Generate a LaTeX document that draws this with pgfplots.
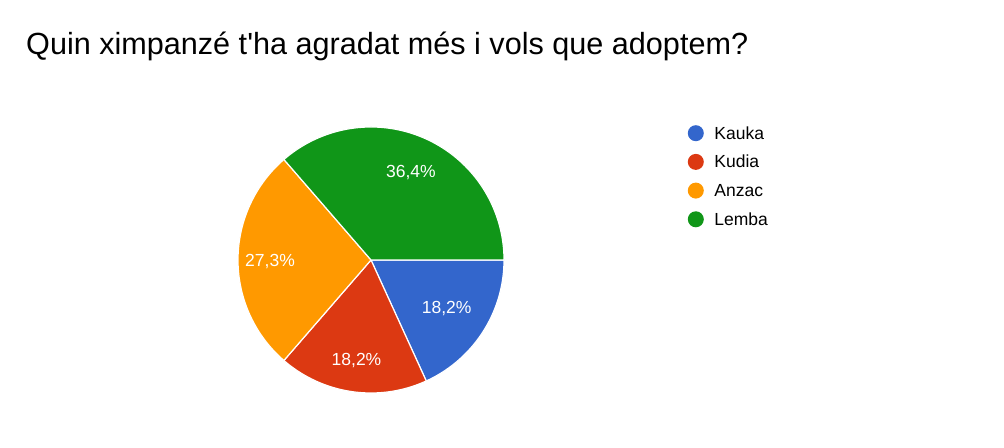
\documentclass[border=0pt]{standalone}
\usepackage{fontspec}
\setmainfont{Liberation Sans}
\usepackage{pgfplots}
\pgfplotsset{compat=1.18}
\definecolor{cKauka}{HTML}{3366CC}
\definecolor{cKudia}{HTML}{DC3912}
\definecolor{cAnzac}{HTML}{FF9900}
\definecolor{cLemba}{HTML}{109618}
% data (percent)
\def\va{18.2}\def\vb{18.2}\def\vc{27.3}\def\vd{36.4}
\pgfmathsetmacro\tot{\va+\vb+\vc+\vd}
\pgfmathsetmacro\aA{-\va/\tot*360}
\pgfmathsetmacro\aB{\aA-\vb/\tot*360}
\pgfmathsetmacro\aC{\aB-\vc/\tot*360}
\pgfmathsetmacro\aD{-360}
\pgfmathsetmacro\mA{\aA/2}
\pgfmathsetmacro\mB{(\aA+\aB)/2}
\pgfmathsetmacro\mC{(\aB+\aC)/2}
\pgfmathsetmacro\mD{(\aC+\aD)/2}
\begin{document}
\begin{tikzpicture}[x=1bp,y=1bp]
\fill[white] (0,0) rectangle (1004,448);
\node[anchor=base west, font=\fontsize{30.6bp}{36bp}\selectfont, inner sep=0] at (26,393) {Quin ximpanzé t\textquotesingle ha agradat més i vols que adoptem?};
\begin{axis}[
  at={(371bp,188bp)}, anchor=origin,
  x=1bp, y=1bp, xmin=-135, xmax=135, ymin=-135, ymax=135,
  hide axis, clip=false,
  legend image code/.code={\fill[#1,draw=none] (8bp,0bp) circle (8bp); \path (0bp,0bp) (26bp,0bp);},
  legend style={at={(axis cs:316,135)}, anchor=north west, draw=none, fill=none,
    inner sep=0pt, row sep=12.7bp,
    font=\fontsize{17.5bp}{20bp}\selectfont,
    nodes={inner sep=0pt, text height=12bp, text depth=0bp}},
  legend cell align=left,
]
\addplot[fill=cKauka, draw=white, line width=1.2bp, domain=0:\aA, samples=60, variable=\t] ({133*cos(\t)},{133*sin(\t)}) -- (0,0) -- cycle;
\addlegendentry{Kauka}
\addplot[fill=cKudia, draw=white, line width=1.2bp, domain=\aA:\aB, samples=60, variable=\t] ({133*cos(\t)},{133*sin(\t)}) -- (0,0) -- cycle;
\addlegendentry{Kudia}
\addplot[fill=cAnzac, draw=white, line width=1.2bp, domain=\aB:\aC, samples=80, variable=\t] ({133*cos(\t)},{133*sin(\t)}) -- (0,0) -- cycle;
\addlegendentry{Anzac}
\addplot[fill=cLemba, draw=white, line width=1.2bp, domain=\aC:\aD, samples=100, variable=\t] ({133*cos(\t)},{133*sin(\t)}) -- (0,0) -- cycle;
\addlegendentry{Lemba}
\node[white, font=\fontsize{17.5bp}{20bp}\selectfont] at (axis cs:{90*cos(\mA)},{90*sin(\mA)}) {18,2\%};
\node[white, font=\fontsize{17.5bp}{20bp}\selectfont] at (axis cs:{102*cos(\mB)},{102*sin(\mB)}) {18,2\%};
\node[white, font=\fontsize{17.5bp}{20bp}\selectfont] at (axis cs:{101*cos(\mC)},{101*sin(\mC)-2}) {27,3\%};
\node[white, font=\fontsize{17.5bp}{20bp}\selectfont] at (axis cs:{96*cos(\mD)},{96*sin(\mD)}) {36,4\%};
\end{axis}
\end{tikzpicture}
\end{document}
